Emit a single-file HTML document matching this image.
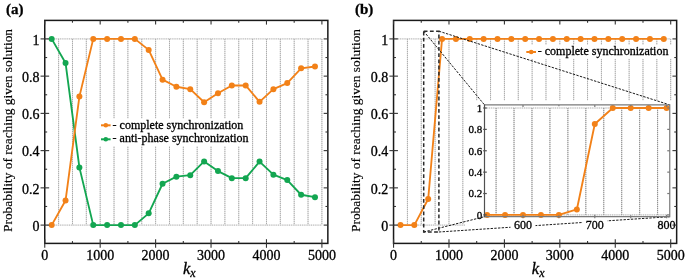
<!DOCTYPE html>
<html><head><meta charset="utf-8"><title>chart</title>
<style>html,body{margin:0;padding:0;background:#fff;width:685px;height:280px;overflow:hidden}svg{display:block;will-change:transform}</style>
</head><body>
<svg width="685" height="280" viewBox="0 0 685 280">
<g>
<rect width="685" height="280" fill="#fff"/>
<g stroke="#e6e6e6" stroke-width="1" fill="none"><line x1="44.75" y1="225.1" x2="321.9" y2="225.1"/><line x1="44.75" y1="38.9" x2="321.9" y2="38.9"/></g>
<g stroke="#b0b0b0" stroke-width="1" stroke-dasharray="1 1.2" fill="none"><line x1="44.75" y1="225.1" x2="321.9" y2="225.1"/><line x1="44.75" y1="38.9" x2="321.9" y2="38.9"/></g>
<g stroke="#e2e2e2" stroke-width="1" fill="none"><line x1="58.61" y1="38.9" x2="58.61" y2="225.1"/><line x1="72.47" y1="38.9" x2="72.47" y2="225.1"/><line x1="86.32" y1="38.9" x2="86.32" y2="225.1"/><line x1="100.18" y1="38.9" x2="100.18" y2="225.1"/><line x1="114.04" y1="38.9" x2="114.04" y2="225.1"/><line x1="127.89" y1="38.9" x2="127.89" y2="225.1"/><line x1="141.75" y1="38.9" x2="141.75" y2="225.1"/><line x1="155.61" y1="38.9" x2="155.61" y2="225.1"/><line x1="169.47" y1="38.9" x2="169.47" y2="225.1"/><line x1="183.32" y1="38.9" x2="183.32" y2="225.1"/><line x1="197.18" y1="38.9" x2="197.18" y2="225.1"/><line x1="211.04" y1="38.9" x2="211.04" y2="225.1"/><line x1="224.9" y1="38.9" x2="224.9" y2="225.1"/><line x1="238.75" y1="38.9" x2="238.75" y2="225.1"/><line x1="252.61" y1="38.9" x2="252.61" y2="225.1"/><line x1="266.47" y1="38.9" x2="266.47" y2="225.1"/><line x1="280.33" y1="38.9" x2="280.33" y2="225.1"/><line x1="294.19" y1="38.9" x2="294.19" y2="225.1"/><line x1="308.04" y1="38.9" x2="308.04" y2="225.1"/><line x1="321.9" y1="38.9" x2="321.9" y2="225.1"/></g>
<g stroke="#a4a4a4" stroke-width="1" stroke-dasharray="1 1" fill="none"><line x1="58.61" y1="38.9" x2="58.61" y2="225.1"/><line x1="72.47" y1="38.9" x2="72.47" y2="225.1"/><line x1="86.32" y1="38.9" x2="86.32" y2="225.1"/><line x1="100.18" y1="38.9" x2="100.18" y2="225.1"/><line x1="114.04" y1="38.9" x2="114.04" y2="225.1"/><line x1="127.89" y1="38.9" x2="127.89" y2="225.1"/><line x1="141.75" y1="38.9" x2="141.75" y2="225.1"/><line x1="155.61" y1="38.9" x2="155.61" y2="225.1"/><line x1="169.47" y1="38.9" x2="169.47" y2="225.1"/><line x1="183.32" y1="38.9" x2="183.32" y2="225.1"/><line x1="197.18" y1="38.9" x2="197.18" y2="225.1"/><line x1="211.04" y1="38.9" x2="211.04" y2="225.1"/><line x1="224.9" y1="38.9" x2="224.9" y2="225.1"/><line x1="238.75" y1="38.9" x2="238.75" y2="225.1"/><line x1="252.61" y1="38.9" x2="252.61" y2="225.1"/><line x1="266.47" y1="38.9" x2="266.47" y2="225.1"/><line x1="280.33" y1="38.9" x2="280.33" y2="225.1"/><line x1="294.19" y1="38.9" x2="294.19" y2="225.1"/><line x1="308.04" y1="38.9" x2="308.04" y2="225.1"/><line x1="321.9" y1="38.9" x2="321.9" y2="225.1"/></g>
<polyline points="51.68,38.9 65.54,62.92 79.39,167.38 93.25,225.1 107.11,225.1 120.97,225.1 134.82,225.1 148.68,213.37 162.54,183.76 176.4,176.69 190.25,175.2 204.11,161.42 217.97,171.1 231.83,178.18 245.68,178.18 259.54,161.61 273.4,174.64 287.26,180.04 301.11,194.75 314.97,197.17" fill="none" stroke="#13A651" stroke-width="1.85" stroke-linejoin="round"/>
<g fill="#13A651"><circle cx="51.68" cy="38.9" r="3"/><circle cx="65.54" cy="62.92" r="3"/><circle cx="79.39" cy="167.38" r="3"/><circle cx="93.25" cy="225.1" r="3"/><circle cx="107.11" cy="225.1" r="3"/><circle cx="120.97" cy="225.1" r="3"/><circle cx="134.82" cy="225.1" r="3"/><circle cx="148.68" cy="213.37" r="3"/><circle cx="162.54" cy="183.76" r="3"/><circle cx="176.4" cy="176.69" r="3"/><circle cx="190.25" cy="175.2" r="3"/><circle cx="204.11" cy="161.42" r="3"/><circle cx="217.97" cy="171.1" r="3"/><circle cx="231.83" cy="178.18" r="3"/><circle cx="245.68" cy="178.18" r="3"/><circle cx="259.54" cy="161.61" r="3"/><circle cx="273.4" cy="174.64" r="3"/><circle cx="287.26" cy="180.04" r="3"/><circle cx="301.11" cy="194.75" r="3"/><circle cx="314.97" cy="197.17" r="3"/></g>
<polyline points="51.68,225.1 65.54,200.52 79.39,96.62 93.25,38.9 107.11,38.9 120.97,38.9 134.82,38.9 148.68,49.89 162.54,79.68 176.4,86.75 190.25,89.17 204.11,102.21 217.97,93.27 231.83,85.45 245.68,85.45 259.54,101.84 273.4,89.17 287.26,83.03 301.11,68.32 314.97,66.46" fill="none" stroke="#F28118" stroke-width="1.85" stroke-linejoin="round"/>
<g fill="#F28118"><circle cx="51.68" cy="225.1" r="3"/><circle cx="65.54" cy="200.52" r="3"/><circle cx="79.39" cy="96.62" r="3"/><circle cx="93.25" cy="38.9" r="3"/><circle cx="107.11" cy="38.9" r="3"/><circle cx="120.97" cy="38.9" r="3"/><circle cx="134.82" cy="38.9" r="3"/><circle cx="148.68" cy="49.89" r="3"/><circle cx="162.54" cy="79.68" r="3"/><circle cx="176.4" cy="86.75" r="3"/><circle cx="190.25" cy="89.17" r="3"/><circle cx="204.11" cy="102.21" r="3"/><circle cx="217.97" cy="93.27" r="3"/><circle cx="231.83" cy="85.45" r="3"/><circle cx="245.68" cy="85.45" r="3"/><circle cx="259.54" cy="101.84" r="3"/><circle cx="273.4" cy="89.17" r="3"/><circle cx="287.26" cy="83.03" r="3"/><circle cx="301.11" cy="68.32" r="3"/><circle cx="314.97" cy="66.46" r="3"/></g>
<rect x="98" y="118.5" width="151" height="27.5" fill="#fff"/>
<line x1="101" y1="125.3" x2="110.6" y2="125.3" stroke="#F28118" stroke-width="2"/><circle cx="105.8" cy="125.3" r="2.3" fill="#F28118"/>
<line x1="101" y1="139.3" x2="110.6" y2="139.3" stroke="#13A651" stroke-width="2"/><circle cx="105.8" cy="139.3" r="2.3" fill="#13A651"/>
<g font-family='"Liberation Serif", serif' font-size="12" fill="#000" stroke="#000" stroke-width="0.3"><text x="112.6" y="128.5">- complete synchronization</text><text x="112.6" y="142">- anti-phase synchronization</text></g>
<rect x="44.75" y="20.4" width="283.1" height="223" fill="none" stroke="#1a1a1a" stroke-width="1.5"/>
<g stroke="#333" stroke-width="1.1" fill="none"><line x1="44.75" y1="239.2" x2="44.75" y2="247.8"/><line x1="44.75" y1="20.4" x2="44.75" y2="24.6"/><line x1="72.47" y1="241.1" x2="72.47" y2="243.4"/><line x1="72.47" y1="20.4" x2="72.47" y2="22.7"/><line x1="100.18" y1="239.2" x2="100.18" y2="247.8"/><line x1="100.18" y1="20.4" x2="100.18" y2="24.6"/><line x1="127.89" y1="241.1" x2="127.89" y2="243.4"/><line x1="127.89" y1="20.4" x2="127.89" y2="22.7"/><line x1="155.61" y1="239.2" x2="155.61" y2="247.8"/><line x1="155.61" y1="20.4" x2="155.61" y2="24.6"/><line x1="183.32" y1="241.1" x2="183.32" y2="243.4"/><line x1="183.32" y1="20.4" x2="183.32" y2="22.7"/><line x1="211.04" y1="239.2" x2="211.04" y2="247.8"/><line x1="211.04" y1="20.4" x2="211.04" y2="24.6"/><line x1="238.75" y1="241.1" x2="238.75" y2="243.4"/><line x1="238.75" y1="20.4" x2="238.75" y2="22.7"/><line x1="266.47" y1="239.2" x2="266.47" y2="247.8"/><line x1="266.47" y1="20.4" x2="266.47" y2="24.6"/><line x1="294.19" y1="241.1" x2="294.19" y2="243.4"/><line x1="294.19" y1="20.4" x2="294.19" y2="22.7"/><line x1="321.9" y1="239.2" x2="321.9" y2="247.8"/><line x1="321.9" y1="20.4" x2="321.9" y2="24.6"/><line x1="40.55" y1="225.1" x2="49.15" y2="225.1"/><line x1="323.65" y1="225.1" x2="327.85" y2="225.1"/><line x1="44.75" y1="206.48" x2="47.15" y2="206.48"/><line x1="325.45" y1="206.48" x2="327.85" y2="206.48"/><line x1="40.55" y1="187.86" x2="49.15" y2="187.86"/><line x1="323.65" y1="187.86" x2="327.85" y2="187.86"/><line x1="44.75" y1="169.24" x2="47.15" y2="169.24"/><line x1="325.45" y1="169.24" x2="327.85" y2="169.24"/><line x1="40.55" y1="150.62" x2="49.15" y2="150.62"/><line x1="323.65" y1="150.62" x2="327.85" y2="150.62"/><line x1="44.75" y1="132" x2="47.15" y2="132"/><line x1="325.45" y1="132" x2="327.85" y2="132"/><line x1="40.55" y1="113.38" x2="49.15" y2="113.38"/><line x1="323.65" y1="113.38" x2="327.85" y2="113.38"/><line x1="44.75" y1="94.76" x2="47.15" y2="94.76"/><line x1="325.45" y1="94.76" x2="327.85" y2="94.76"/><line x1="40.55" y1="76.14" x2="49.15" y2="76.14"/><line x1="323.65" y1="76.14" x2="327.85" y2="76.14"/><line x1="44.75" y1="57.52" x2="47.15" y2="57.52"/><line x1="325.45" y1="57.52" x2="327.85" y2="57.52"/><line x1="40.55" y1="38.9" x2="49.15" y2="38.9"/><line x1="323.65" y1="38.9" x2="327.85" y2="38.9"/></g>
<g font-family='"Liberation Serif", serif' font-size="14" fill="#000" stroke="#000" stroke-width="0.3"><text x="44.75" y="260" text-anchor="middle">0</text><text x="100.18" y="260" text-anchor="middle">1000</text><text x="155.61" y="260" text-anchor="middle">2000</text><text x="211.04" y="260" text-anchor="middle">3000</text><text x="266.47" y="260" text-anchor="middle">4000</text><text x="321.9" y="260" text-anchor="middle">5000</text><text x="39.55" y="230.9" text-anchor="end">0</text><text x="39.55" y="193.66" text-anchor="end">0.2</text><text x="39.55" y="156.42" text-anchor="end">0.4</text><text x="39.55" y="119.18" text-anchor="end">0.6</text><text x="39.55" y="81.94" text-anchor="end">0.8</text><text x="39.55" y="44.7" text-anchor="end">1</text></g>
<g stroke="#e6e6e6" stroke-width="1" fill="none"><line x1="393.55" y1="225.1" x2="670.7" y2="225.1"/><line x1="393.55" y1="38.9" x2="670.7" y2="38.9"/></g>
<g stroke="#b0b0b0" stroke-width="1" stroke-dasharray="1 1.2" fill="none"><line x1="393.55" y1="225.1" x2="670.7" y2="225.1"/><line x1="393.55" y1="38.9" x2="670.7" y2="38.9"/></g>
<g stroke="#e2e2e2" stroke-width="1" fill="none"><line x1="407.41" y1="38.9" x2="407.41" y2="225.1"/><line x1="421.26" y1="38.9" x2="421.26" y2="225.1"/><line x1="435.12" y1="38.9" x2="435.12" y2="225.1"/><line x1="448.98" y1="38.9" x2="448.98" y2="225.1"/><line x1="462.84" y1="38.9" x2="462.84" y2="225.1"/><line x1="476.69" y1="38.9" x2="476.69" y2="225.1"/><line x1="490.55" y1="38.9" x2="490.55" y2="225.1"/><line x1="504.41" y1="38.9" x2="504.41" y2="225.1"/><line x1="518.27" y1="38.9" x2="518.27" y2="225.1"/><line x1="532.12" y1="38.9" x2="532.12" y2="225.1"/><line x1="545.98" y1="38.9" x2="545.98" y2="225.1"/><line x1="559.84" y1="38.9" x2="559.84" y2="225.1"/><line x1="573.7" y1="38.9" x2="573.7" y2="225.1"/><line x1="587.56" y1="38.9" x2="587.56" y2="225.1"/><line x1="601.41" y1="38.9" x2="601.41" y2="225.1"/><line x1="615.27" y1="38.9" x2="615.27" y2="225.1"/><line x1="629.13" y1="38.9" x2="629.13" y2="225.1"/><line x1="642.99" y1="38.9" x2="642.99" y2="225.1"/><line x1="656.84" y1="38.9" x2="656.84" y2="225.1"/><line x1="670.7" y1="38.9" x2="670.7" y2="225.1"/></g>
<g stroke="#a4a4a4" stroke-width="1" stroke-dasharray="1 1" fill="none"><line x1="407.41" y1="38.9" x2="407.41" y2="225.1"/><line x1="421.26" y1="38.9" x2="421.26" y2="225.1"/><line x1="435.12" y1="38.9" x2="435.12" y2="225.1"/><line x1="448.98" y1="38.9" x2="448.98" y2="225.1"/><line x1="462.84" y1="38.9" x2="462.84" y2="225.1"/><line x1="476.69" y1="38.9" x2="476.69" y2="225.1"/><line x1="490.55" y1="38.9" x2="490.55" y2="225.1"/><line x1="504.41" y1="38.9" x2="504.41" y2="225.1"/><line x1="518.27" y1="38.9" x2="518.27" y2="225.1"/><line x1="532.12" y1="38.9" x2="532.12" y2="225.1"/><line x1="545.98" y1="38.9" x2="545.98" y2="225.1"/><line x1="559.84" y1="38.9" x2="559.84" y2="225.1"/><line x1="573.7" y1="38.9" x2="573.7" y2="225.1"/><line x1="587.56" y1="38.9" x2="587.56" y2="225.1"/><line x1="601.41" y1="38.9" x2="601.41" y2="225.1"/><line x1="615.27" y1="38.9" x2="615.27" y2="225.1"/><line x1="629.13" y1="38.9" x2="629.13" y2="225.1"/><line x1="642.99" y1="38.9" x2="642.99" y2="225.1"/><line x1="656.84" y1="38.9" x2="656.84" y2="225.1"/><line x1="670.7" y1="38.9" x2="670.7" y2="225.1"/></g>
<polyline points="400.48,225.1 414.34,225.1 428.19,199.03 442.05,38.9 455.91,38.9 469.77,38.9 483.62,38.9 497.48,38.9 511.34,38.9 525.2,38.9 539.05,38.9 552.91,38.9 566.77,38.9 580.63,38.9 594.48,38.9 608.34,38.9 622.2,38.9 636.06,38.9 649.91,38.9 663.77,38.9" fill="none" stroke="#F28118" stroke-width="1.85" stroke-linejoin="round"/>
<g fill="#F28118"><circle cx="400.48" cy="225.1" r="3"/><circle cx="414.34" cy="225.1" r="3"/><circle cx="428.19" cy="199.03" r="3"/><circle cx="442.05" cy="38.9" r="3"/><circle cx="455.91" cy="38.9" r="3"/><circle cx="469.77" cy="38.9" r="3"/><circle cx="483.62" cy="38.9" r="3"/><circle cx="497.48" cy="38.9" r="3"/><circle cx="511.34" cy="38.9" r="3"/><circle cx="525.2" cy="38.9" r="3"/><circle cx="539.05" cy="38.9" r="3"/><circle cx="552.91" cy="38.9" r="3"/><circle cx="566.77" cy="38.9" r="3"/><circle cx="580.63" cy="38.9" r="3"/><circle cx="594.48" cy="38.9" r="3"/><circle cx="608.34" cy="38.9" r="3"/><circle cx="622.2" cy="38.9" r="3"/><circle cx="636.06" cy="38.9" r="3"/><circle cx="649.91" cy="38.9" r="3"/><circle cx="663.77" cy="38.9" r="3"/></g>
<rect x="523" y="45" width="150" height="13.8" fill="#fff"/>
<line x1="526.3" y1="52" x2="536" y2="52" stroke="#F28118" stroke-width="2"/><circle cx="531.2" cy="52" r="2.3" fill="#F28118"/>
<g font-family='"Liberation Serif", serif' font-size="12" fill="#000" stroke="#000" stroke-width="0.3"><text x="537.8" y="55.3">- complete synchronization</text></g>
<rect x="465" y="100.5" width="209.5" height="129.5" fill="#fff"/>
<g stroke="#1a1a1a" stroke-width="1" stroke-dasharray="2.4 1.3" fill="none"><line x1="423.7" y1="31.2" x2="484.5" y2="104.9"/><line x1="438.9" y1="31.2" x2="669.75" y2="104.9"/><line x1="423.7" y1="232.0" x2="484.5" y2="216.7"/><line x1="438.9" y1="232.0" x2="669.75" y2="216.7"/></g>
<rect x="423.7" y="31.2" width="15.2" height="200.8" fill="none" stroke="#2a2a2a" stroke-width="1.5" stroke-dasharray="3.8 2.4"/>
<rect x="484.5" y="104.9" width="185.25" height="111.8" fill="#fff"/>
<g stroke="#e6e6e6" stroke-width="1" fill="none"><line x1="484.5" y1="214.9" x2="669.75" y2="214.9"/><line x1="484.5" y1="108" x2="669.75" y2="108"/></g>
<g stroke="#b0b0b0" stroke-width="1" stroke-dasharray="1 1.2" fill="none"><line x1="484.5" y1="214.9" x2="669.75" y2="214.9"/><line x1="484.5" y1="108" x2="669.75" y2="108"/></g>
<g stroke="#d4d4d4" stroke-width="1" fill="none"><line x1="496.08" y1="108" x2="496.08" y2="214.9"/><line x1="514.02" y1="108" x2="514.02" y2="214.9"/><line x1="531.98" y1="108" x2="531.98" y2="214.9"/><line x1="549.93" y1="108" x2="549.93" y2="214.9"/><line x1="567.88" y1="108" x2="567.88" y2="214.9"/><line x1="585.83" y1="108" x2="585.83" y2="214.9"/><line x1="603.77" y1="108" x2="603.77" y2="214.9"/><line x1="621.73" y1="108" x2="621.73" y2="214.9"/><line x1="639.67" y1="108" x2="639.67" y2="214.9"/><line x1="657.62" y1="108" x2="657.62" y2="214.9"/></g>
<g stroke="#8a8a8a" stroke-width="1" stroke-dasharray="1 1" fill="none"><line x1="496.08" y1="108" x2="496.08" y2="214.9"/><line x1="514.02" y1="108" x2="514.02" y2="214.9"/><line x1="531.98" y1="108" x2="531.98" y2="214.9"/><line x1="549.93" y1="108" x2="549.93" y2="214.9"/><line x1="567.88" y1="108" x2="567.88" y2="214.9"/><line x1="585.83" y1="108" x2="585.83" y2="214.9"/><line x1="603.77" y1="108" x2="603.77" y2="214.9"/><line x1="621.73" y1="108" x2="621.73" y2="214.9"/><line x1="639.67" y1="108" x2="639.67" y2="214.9"/><line x1="657.62" y1="108" x2="657.62" y2="214.9"/></g>
<polyline points="487.1,214.9 505.05,214.9 523,214.9 540.95,214.9 558.9,214.9 576.85,209.45 594.8,124.03 612.75,108 630.7,108 648.65,108 666.6,108" fill="none" stroke="#F28118" stroke-width="1.85" stroke-linejoin="round"/>
<g fill="#F28118"><circle cx="487.1" cy="214.9" r="3"/><circle cx="505.05" cy="214.9" r="3"/><circle cx="523" cy="214.9" r="3"/><circle cx="540.95" cy="214.9" r="3"/><circle cx="558.9" cy="214.9" r="3"/><circle cx="576.85" cy="209.45" r="3"/><circle cx="594.8" cy="124.03" r="3"/><circle cx="612.75" cy="108" r="3"/><circle cx="630.7" cy="108" r="3"/><circle cx="648.65" cy="108" r="3"/><circle cx="666.6" cy="108" r="3"/></g>
<g stroke="#7a7a7a" stroke-width="1.2" fill="none"><path d="M484.5 104.9 H669.75 V216.7 H484.5" fill="none"/><line x1="667.25" y1="214.9" x2="669.75" y2="214.9"/><line x1="667.25" y1="193.52" x2="669.75" y2="193.52"/><line x1="667.25" y1="172.14" x2="669.75" y2="172.14"/><line x1="667.25" y1="150.76" x2="669.75" y2="150.76"/><line x1="667.25" y1="129.38" x2="669.75" y2="129.38"/><line x1="667.25" y1="108" x2="669.75" y2="108"/><line x1="523" y1="214.7" x2="523" y2="218.3"/><line x1="523" y1="104.9" x2="523" y2="106.9"/><line x1="558.9" y1="215.3" x2="558.9" y2="218.3"/><line x1="558.9" y1="104.9" x2="558.9" y2="106.3"/><line x1="594.8" y1="214.7" x2="594.8" y2="218.3"/><line x1="594.8" y1="104.9" x2="594.8" y2="106.9"/><line x1="630.7" y1="215.3" x2="630.7" y2="218.3"/><line x1="630.7" y1="104.9" x2="630.7" y2="106.3"/><line x1="666.6" y1="214.7" x2="666.6" y2="218.3"/><line x1="666.6" y1="104.9" x2="666.6" y2="106.9"/></g>
<g stroke="#505050" stroke-width="1.2" fill="none"><line x1="484.5" y1="104.3" x2="484.5" y2="217.3"/><line x1="483.2" y1="214.9" x2="486.8" y2="214.9"/><line x1="483.2" y1="193.52" x2="486.8" y2="193.52"/><line x1="483.2" y1="172.14" x2="486.8" y2="172.14"/><line x1="483.2" y1="150.76" x2="486.8" y2="150.76"/><line x1="483.2" y1="129.38" x2="486.8" y2="129.38"/><line x1="483.2" y1="108" x2="486.8" y2="108"/></g>
<g font-family='"Liberation Serif", serif' font-size="11" fill="#000" stroke="#000" stroke-width="0.3"><text x="482.3" y="218.7" text-anchor="end">0</text><text x="482.3" y="197.32" text-anchor="end">0.2</text><text x="482.3" y="175.94" text-anchor="end">0.4</text><text x="482.3" y="154.56" text-anchor="end">0.6</text><text x="482.3" y="133.18" text-anchor="end">0.8</text><text x="482.3" y="111.8" text-anchor="end">1</text></g>
<rect x="510.5" y="219" width="25" height="11" fill="#fff"/>
<rect x="582.3" y="219" width="25" height="11" fill="#fff"/>
<rect x="654.1" y="219" width="25" height="11" fill="#fff"/>
<g font-family='"Liberation Serif", serif' font-size="12" fill="#000" stroke="#000" stroke-width="0.3"><text x="523" y="228.5" text-anchor="middle">600</text><text x="594.8" y="228.5" text-anchor="middle">700</text><text x="666.6" y="228.5" text-anchor="middle">800</text></g>
<rect x="393.55" y="20.4" width="283.1" height="223" fill="none" stroke="#1a1a1a" stroke-width="1.5"/>
<g stroke="#333" stroke-width="1.1" fill="none"><line x1="393.55" y1="239.2" x2="393.55" y2="247.8"/><line x1="393.55" y1="20.4" x2="393.55" y2="24.6"/><line x1="421.26" y1="241.1" x2="421.26" y2="243.4"/><line x1="421.26" y1="20.4" x2="421.26" y2="22.7"/><line x1="448.98" y1="239.2" x2="448.98" y2="247.8"/><line x1="448.98" y1="20.4" x2="448.98" y2="24.6"/><line x1="476.69" y1="241.1" x2="476.69" y2="243.4"/><line x1="476.69" y1="20.4" x2="476.69" y2="22.7"/><line x1="504.41" y1="239.2" x2="504.41" y2="247.8"/><line x1="504.41" y1="20.4" x2="504.41" y2="24.6"/><line x1="532.12" y1="241.1" x2="532.12" y2="243.4"/><line x1="532.12" y1="20.4" x2="532.12" y2="22.7"/><line x1="559.84" y1="239.2" x2="559.84" y2="247.8"/><line x1="559.84" y1="20.4" x2="559.84" y2="24.6"/><line x1="587.56" y1="241.1" x2="587.56" y2="243.4"/><line x1="587.56" y1="20.4" x2="587.56" y2="22.7"/><line x1="615.27" y1="239.2" x2="615.27" y2="247.8"/><line x1="615.27" y1="20.4" x2="615.27" y2="24.6"/><line x1="642.99" y1="241.1" x2="642.99" y2="243.4"/><line x1="642.99" y1="20.4" x2="642.99" y2="22.7"/><line x1="670.7" y1="239.2" x2="670.7" y2="247.8"/><line x1="670.7" y1="20.4" x2="670.7" y2="24.6"/><line x1="389.35" y1="225.1" x2="397.95" y2="225.1"/><line x1="672.45" y1="225.1" x2="676.65" y2="225.1"/><line x1="393.55" y1="206.48" x2="395.95" y2="206.48"/><line x1="674.25" y1="206.48" x2="676.65" y2="206.48"/><line x1="389.35" y1="187.86" x2="397.95" y2="187.86"/><line x1="672.45" y1="187.86" x2="676.65" y2="187.86"/><line x1="393.55" y1="169.24" x2="395.95" y2="169.24"/><line x1="674.25" y1="169.24" x2="676.65" y2="169.24"/><line x1="389.35" y1="150.62" x2="397.95" y2="150.62"/><line x1="672.45" y1="150.62" x2="676.65" y2="150.62"/><line x1="393.55" y1="132" x2="395.95" y2="132"/><line x1="674.25" y1="132" x2="676.65" y2="132"/><line x1="389.35" y1="113.38" x2="397.95" y2="113.38"/><line x1="672.45" y1="113.38" x2="676.65" y2="113.38"/><line x1="393.55" y1="94.76" x2="395.95" y2="94.76"/><line x1="674.25" y1="94.76" x2="676.65" y2="94.76"/><line x1="389.35" y1="76.14" x2="397.95" y2="76.14"/><line x1="672.45" y1="76.14" x2="676.65" y2="76.14"/><line x1="393.55" y1="57.52" x2="395.95" y2="57.52"/><line x1="674.25" y1="57.52" x2="676.65" y2="57.52"/><line x1="389.35" y1="38.9" x2="397.95" y2="38.9"/><line x1="672.45" y1="38.9" x2="676.65" y2="38.9"/></g>
<g font-family='"Liberation Serif", serif' font-size="14" fill="#000" stroke="#000" stroke-width="0.3"><text x="393.55" y="260" text-anchor="middle">0</text><text x="448.98" y="260" text-anchor="middle">1000</text><text x="504.41" y="260" text-anchor="middle">2000</text><text x="559.84" y="260" text-anchor="middle">3000</text><text x="615.27" y="260" text-anchor="middle">4000</text><text x="670.7" y="260" text-anchor="middle">5000</text><text x="388.35" y="230.9" text-anchor="end">0</text><text x="388.35" y="193.66" text-anchor="end">0.2</text><text x="388.35" y="156.42" text-anchor="end">0.4</text><text x="388.35" y="119.18" text-anchor="end">0.6</text><text x="388.35" y="81.94" text-anchor="end">0.8</text><text x="388.35" y="44.7" text-anchor="end">1</text></g>
<text transform="translate(11.6,130.5) rotate(-90)" text-anchor="middle" font-family='"Liberation Serif", serif' font-size="13.4" fill="#000" stroke="#000" stroke-width="0.15">Probability of reaching given solution</text>
<text x="183" y="274" font-family='"Liberation Serif", serif' font-style="italic" font-size="16.5" fill="#000" stroke="#000" stroke-width="0.3">k<tspan font-size="12" dy="3.4">x</tspan></text>
<text transform="translate(360.4,130.5) rotate(-90)" text-anchor="middle" font-family='"Liberation Serif", serif' font-size="13.4" fill="#000" stroke="#000" stroke-width="0.15">Probability of reaching given solution</text>
<text x="531.8" y="274" font-family='"Liberation Serif", serif' font-style="italic" font-size="16.5" fill="#000" stroke="#000" stroke-width="0.3">k<tspan font-size="12" dy="3.4">x</tspan></text>
<text x="6" y="13.5" font-family='"Liberation Serif", serif' font-weight="bold" font-size="15" fill="#000" stroke="#000" stroke-width="0.3">(a)</text>
<text x="355" y="13.5" font-family='"Liberation Serif", serif' font-weight="bold" font-size="15" fill="#000" stroke="#000" stroke-width="0.3">(b)</text>
</g>
</svg>
</body></html>
